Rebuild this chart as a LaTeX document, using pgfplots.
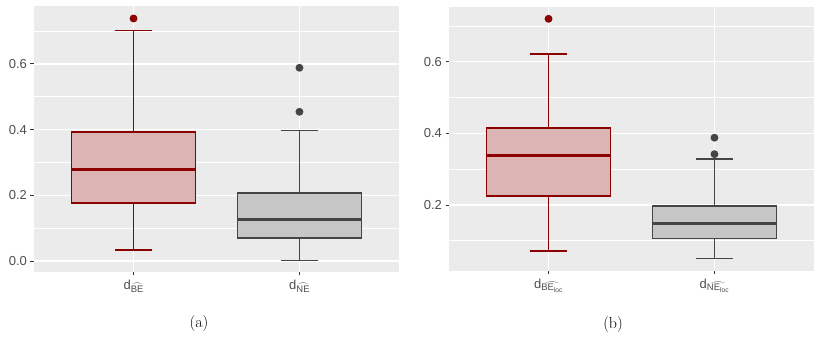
\documentclass[border=0pt]{standalone}
\usepackage{amsmath}
\usepackage{fontspec}
\usepackage{pgfplots}
\pgfplotsset{compat=1.18}
\usepgfplotslibrary{statistics}
\newfontfamily\ggfont{Liberation Sans}
\definecolor{bgc}{HTML}{EBEBEB}
\definecolor{redc}{HTML}{8B0000}
\definecolor{redfill}{HTML}{DCB4B4}
\definecolor{grayc}{HTML}{454545}
\definecolor{grayfill}{HTML}{C6C6C6}
\definecolor{labc}{HTML}{4D4D4D}
\definecolor{tickc}{HTML}{333333}
\newcommand{\xl}[1]{d\raisebox{-2.6pt}{\fontsize{9.5}{9.5}\selectfont$\widehat{#1}$}}
\pgfplotsset{
  gg/.style={
    scale only axis, anchor=south west,
    axis background/.style={fill=bgc},
    axis line style={draw=none},
    xmin=0.4, xmax=2.6,
    xtick={1,2},
    minor ytick={0.1,0.3,0.5,0.7},
    xtick pos=bottom, ytick pos=left,
    tick align=outside,
    major tick length=3.5pt,
    minor tick length=0pt,
    tick style={color=tickc, line width=0.8pt},
    xmajorgrids, ymajorgrids, yminorgrids,
    major grid style={white, line width=1.4pt},
    minor grid style={white, line width=0.7pt},
    ticklabel style={font=\ggfont\fontsize{13}{15}\selectfont, text=labc},
    yticklabel style={/pgf/number format/.cd, fixed, fixed zerofill, precision=1, assume math mode=true},
    xticklabel style={yshift=-1pt},
    boxplot/draw direction=y,
    boxplot/every box/.style={line width=1.4pt},
    boxplot/every whisker/.style={line width=1.4pt},
    boxplot/every median/.style={line width=2.7pt},
  },
  redbox/.style={draw=redc, fill=redfill, line width=1.4pt, mark=*, mark size=3.2pt,
    mark options={solid, fill=redc, draw=none}},
  graybox/.style={draw=grayc, fill=grayfill, line width=1.4pt, mark=*, mark size=3.2pt,
    mark options={solid, fill=grayc, draw=none}},
}
\begin{document}
\begin{tikzpicture}
\path[use as bounding box] (0pt,0pt) rectangle (820pt,339pt);
\begin{axis}[gg, at={(34pt,67pt)}, width=365pt, height=266pt,
  ymin=-0.0335, ymax=0.776, ytick={0,0.2,0.4,0.6},
  xticklabels={\xl{\text{BE}}, \xl{\text{NE}}}]
\addplot[redbox, boxplot prepared={draw position=1, median=0.279, upper quartile=0.393,
  lower quartile=0.177, upper whisker=0.702, lower whisker=0.033, box extend=0.75, whisker extend=0.225}]
  table[row sep=\\, y index=0] {data\\ 0.738\\};
\addplot[graybox, boxplot prepared={draw position=2, median=0.126, upper quartile=0.207,
  lower quartile=0.070, upper whisker=0.397, lower whisker=0.001, box extend=0.75, whisker extend=0.225}]
  table[row sep=\\, y index=0] {data\\ 0.588\\ 0.454\\};
\end{axis}
\begin{axis}[gg, at={(449pt,68.3pt)}, width=365pt, height=263.7pt,
  ymin=0.0166, ymax=0.753, ytick={0.2,0.4,0.6},
  xticklabels={\xl{\text{BE}_{\text{loc}}}, \xl{\text{NE}_{\text{loc}}}}]
\addplot[redbox, boxplot prepared={draw position=1, median=0.3375, upper quartile=0.415,
  lower quartile=0.225, upper whisker=0.622, lower whisker=0.0716, box extend=0.75, whisker extend=0.225}]
  table[row sep=\\, y index=0] {data\\ 0.72\\};
\addplot[graybox, boxplot prepared={draw position=2, median=0.148, upper quartile=0.197,
  lower quartile=0.107, upper whisker=0.329, lower whisker=0.050, box extend=0.75, whisker extend=0.225}]
  table[row sep=\\, y index=0] {data\\ 0.388\\ 0.342\\};
\end{axis}
\node[font=\fontsize{16}{18}\selectfont] at (199pt,15pt) {(a)};
\node[font=\fontsize{16}{18}\selectfont] at (613pt,14pt) {(b)};
\end{tikzpicture}
\end{document}
